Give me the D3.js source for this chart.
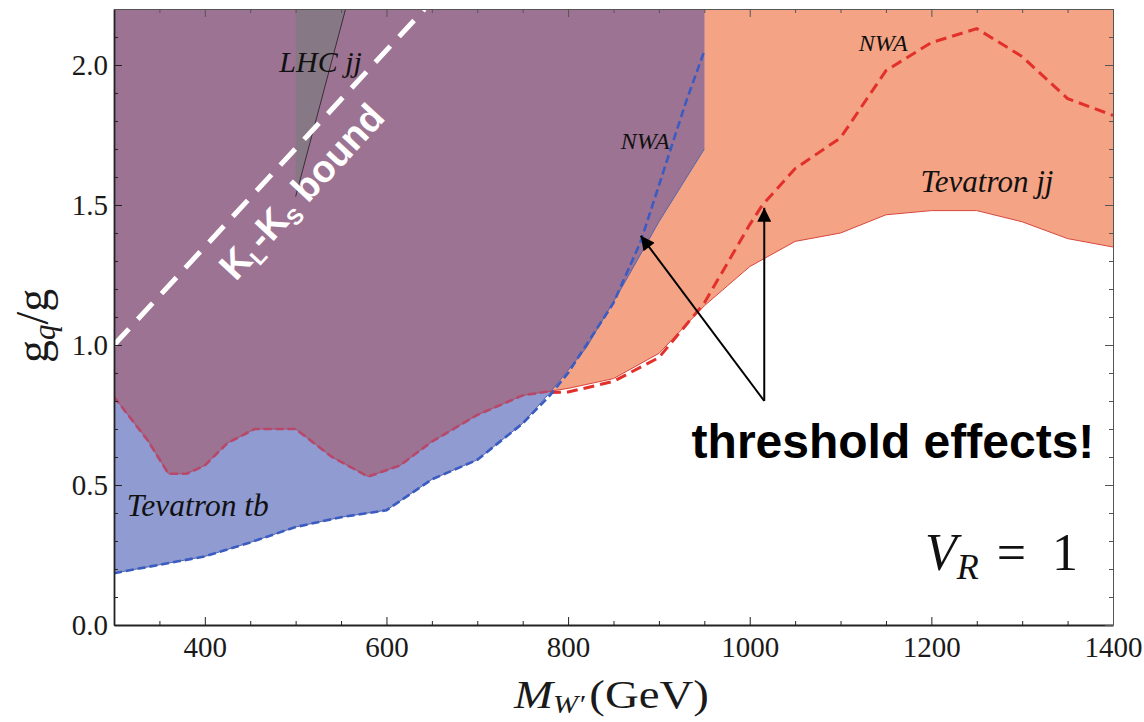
<!DOCTYPE html>
<html><head><meta charset="utf-8">
<script src="https://cdn.jsdelivr.net/npm/d3@7"></script>
<style>body{margin:0;background:#fff}</style>
</head><body>
<svg id="chart" width="1144" height="722"></svg>
<script>
// ---------------- data ----------------
const xDomain = [300, 1400];
const yDomain = [0, 2.2];
const xMajorTicks = [400, 600, 800, 1000, 1200, 1400];
const xMinorTicks = [350, 450, 500, 550, 650, 700, 750, 850, 900, 950, 1050, 1100, 1150, 1250, 1300, 1350];
const yMajorTicks = [0, 0.5, 1.0, 1.5, 2.0];
const yMinorTicks = [0.1, 0.2, 0.3, 0.4, 0.6, 0.7, 0.8, 0.9, 1.1, 1.2, 1.3, 1.4, 1.6, 1.7, 1.8, 1.9, 2.1];

// Tevatron jj exclusion boundary (solid)
const jjMass  = [300, 337, 360, 380, 400, 425, 455, 500, 540, 580, 615, 650, 700, 750, 780, 800, 850, 900, 950, 1000, 1050, 1100, 1150, 1200, 1250, 1300, 1350, 1400];
const jjBound = [0.815, 0.66, 0.54, 0.54, 0.57, 0.65, 0.70, 0.70, 0.60, 0.53, 0.57, 0.655, 0.75, 0.82, 0.835, 0.845, 0.88, 0.97, 1.14, 1.28, 1.37, 1.40, 1.465, 1.48, 1.48, 1.44, 1.38, 1.35];
// Tevatron jj NWA (dashed), part that departs from boundary
const jjNwaMass = [780, 800, 850, 900, 950, 1000, 1014, 1050, 1100, 1150, 1200, 1250, 1300, 1350, 1400];
const jjNwa     = [0.83, 0.832, 0.87, 0.955, 1.15, 1.43, 1.50, 1.63, 1.74, 1.98, 2.08, 2.13, 2.03, 1.88, 1.82];

// Tevatron tb exclusion boundary (solid)
const tbMass  = [300, 350, 400, 450, 500, 550, 600, 650, 700, 750, 780, 820, 860, 900, 950];
const tbBound = [0.185, 0.215, 0.245, 0.295, 0.35, 0.385, 0.41, 0.52, 0.59, 0.72, 0.83, 0.99, 1.21, 1.44, 1.70];
// Tevatron tb NWA (dashed)
const tbNwaMass = [300, 350, 400, 450, 500, 550, 600, 650, 700, 750, 780, 800, 850, 880, 900, 930, 950];
const tbNwa     = [0.185, 0.215, 0.245, 0.295, 0.35, 0.385, 0.41, 0.52, 0.59, 0.72, 0.82, 0.90, 1.15, 1.37, 1.57, 1.87, 2.05];

// LHC jj region
const lhcMass = [500, 500, 555];
const lhcG    = [2.2, 1.53, 2.2];

// K_L - K_S bound line
const klMass = [300, 642];
const klG    = [1.0, 2.2];

// annotation anchors (data coords)
const arrowFrom = [1016, 0.80];
const arrowTips = [[880, 1.39], [1016, 1.49]];

// ---------------- chart ----------------
const svg = d3.select('#chart');
const x = d3.scaleLinear().domain(xDomain).range([114, 1113]);
const y = d3.scaleLinear().domain(yDomain).range([625, 9]);
const yTop = yDomain[1];

const pts = (ms, vs) => ms.map((m, i) => [m, vs[i]]);
const jjPts = pts(jjMass, jjBound);
const tbPts = pts(tbMass, tbBound);
const area = d3.area().x(d => x(d[0])).y0(y(yTop)).y1(d => y(d[1]));
const line = d3.line().x(d => x(d[0])).y(d => y(d[1]));

const defs = svg.append('defs');
defs.append('clipPath').attr('id', 'plotClip').append('rect')
  .attr('x', x(xDomain[0])).attr('y', y(yTop))
  .attr('width', x(xDomain[1]) - x(xDomain[0])).attr('height', y(0) - y(yTop));
defs.append('clipPath').attr('id', 'tbClip').append('path').attr('d', area(tbPts));
defs.append('marker').attr('id', 'arr').attr('viewBox', '0 0 10 10')
  .attr('refX', 10).attr('refY', 5).attr('markerWidth', 16).attr('markerHeight', 14)
  .attr('markerUnits', 'userSpaceOnUse').attr('orient', 'auto')
  .append('path').attr('d', 'M0,0 L10,5 L0,10 Z').attr('fill', '#000');

const plot = svg.append('g').attr('clip-path', 'url(#plotClip)');

plot.append('path').attr('d', area(jjPts)).attr('fill', '#f5a385');
plot.append('path').attr('d', area(tbPts)).attr('fill', '#8f9bd1');
plot.append('path').attr('d', area(jjPts)).attr('fill', '#9d7393').attr('clip-path', 'url(#tbClip)');

// LHC jj
const lhcPts = pts(lhcMass, lhcG);
plot.append('path').attr('d', line(lhcPts) + 'Z').attr('fill', '#877886');
plot.append('path').attr('d', line(lhcPts.slice(1))).attr('stroke', '#3a2e3a').attr('stroke-width', 1).attr('fill', 'none');

// tb boundary thin line
plot.append('path').attr('d', line(tbPts)).attr('stroke', '#5a66a8').attr('stroke-width', 1).attr('fill', 'none');
// jj boundary thin line
plot.append('path').attr('d', line(jjPts.filter(d => d[0] >= 780))).attr('stroke', '#d8463c').attr('stroke-width', 1).attr('fill', 'none');
plot.append('path').attr('d', line(jjPts.filter(d => d[0] <= 780))).attr('stroke', '#a8506a').attr('stroke-width', 1).attr('fill', 'none');
// jj NWA dashed: in overlap part muted
plot.append('path').attr('d', line(jjPts.filter(d => d[0] <= 780))).attr('stroke', '#b8486a')
  .attr('stroke-width', 2.6).attr('stroke-dasharray', '8,4').attr('fill', 'none');
plot.append('path').attr('d', line(pts(jjNwaMass, jjNwa))).attr('stroke', '#e2302b')
  .attr('stroke-width', 3).attr('stroke-dasharray', '11,6').attr('fill', 'none');
// tb NWA dashed
plot.append('path').attr('d', line(pts(tbNwaMass, tbNwa))).attr('stroke', '#3a5cc2')
  .attr('stroke-width', 2.6).attr('stroke-dasharray', '8,4').attr('fill', 'none');

// K_L-K_S dashed white
plot.append('path').attr('d', line(pts(klMass, klG))).attr('stroke', '#fff')
  .attr('stroke-width', 5).attr('stroke-dasharray', '22,13').attr('fill', 'none');

// ---------------- axes ----------------
const serif = "'Liberation Serif', 'Times New Roman', serif";
function styleAxis(g, w, col) {
  g.select('.domain').attr('stroke', col).attr('stroke-width', w);
  g.selectAll('.tick line').attr('stroke', col).attr('stroke-width', 1);
  g.selectAll('text').attr('font-family', serif).attr('font-size', 29).attr('fill', '#1a1a1a');
}
const gb = svg.append('g').attr('transform', `translate(0,${y(0)})`)
  .call(d3.axisBottom(x).tickValues(xMajorTicks).tickSizeInner(-8).tickSizeOuter(0).tickPadding(11).tickFormat(d3.format('d')));
styleAxis(gb, 1.8, '#222');
svg.append('g').attr('transform', `translate(0,${y(0)})`)
  .call(d3.axisBottom(x).tickValues(xMinorTicks).tickSizeInner(-4).tickSizeOuter(0).tickFormat(''))
  .call(g => { g.select('.domain').remove(); g.selectAll('line').attr('stroke', '#222'); });
const gl = svg.append('g').attr('transform', `translate(${x(xDomain[0])},0)`)
  .call(d3.axisLeft(y).tickValues(yMajorTicks).tickSizeInner(-8).tickSizeOuter(0).tickPadding(6).tickFormat(d3.format('.1f')));
styleAxis(gl, 1.8, '#222');
svg.append('g').attr('transform', `translate(${x(xDomain[0])},0)`)
  .call(d3.axisLeft(y).tickValues(yMinorTicks).tickSizeInner(-4).tickSizeOuter(0).tickFormat(''))
  .call(g => { g.select('.domain').remove(); g.selectAll('line').attr('stroke', '#222'); });
// top & right
const gt = svg.append('g').attr('transform', `translate(0,${y(yTop)})`)
  .call(d3.axisTop(x).tickValues(xMajorTicks).tickSizeInner(-8).tickSizeOuter(0).tickFormat(''));
styleAxis(gt, 1, '#555');
svg.append('g').attr('transform', `translate(0,${y(yTop)})`)
  .call(d3.axisTop(x).tickValues(xMinorTicks).tickSizeInner(-4).tickSizeOuter(0).tickFormat(''))
  .call(g => { g.select('.domain').remove(); g.selectAll('line').attr('stroke', '#555'); });
const gr = svg.append('g').attr('transform', `translate(${x(xDomain[1])},0)`)
  .call(d3.axisRight(y).tickValues(yMajorTicks).tickSizeInner(-8).tickSizeOuter(0).tickFormat(''));
styleAxis(gr, 1, '#555');
svg.append('g').attr('transform', `translate(${x(xDomain[1])},0)`)
  .call(d3.axisRight(y).tickValues(yMinorTicks).tickSizeInner(-4).tickSizeOuter(0).tickFormat(''))
  .call(g => { g.select('.domain').remove(); g.selectAll('line').attr('stroke', '#555'); });

// axis titles
const xt = svg.append('text').attr('font-family', serif).attr('fill', '#1a1a1a')
  .attr('transform', `translate(514,708) scale(1.2,1)`);
xt.append('tspan').attr('font-style', 'italic').attr('font-size', 39).text('M');
xt.append('tspan').attr('font-style', 'italic').attr('font-size', 25).attr('dy', 5).text('W′');
xt.append('tspan').attr('font-size', 39).attr('dy', -5).attr('dx', 4).text('(GeV)');

const yt = svg.append('text').attr('font-family', serif).attr('fill', '#1a1a1a')
  .attr('transform', 'translate(48,363) rotate(-90)');
yt.append('tspan').attr('font-size', 46).text('g');
yt.append('tspan').attr('font-style', 'italic').attr('font-size', 31).attr('dy', 7).text('q');
yt.append('tspan').attr('font-size', 46).attr('dy', -7).text('/g');

// ---------------- labels ----------------
function itLabel(txt, xd, yd, size) {
  return svg.append('text').attr('x', x(xd)).attr('y', y(yd)).attr('font-family', serif)
    .attr('font-style', 'italic').attr('font-size', size).attr('fill', '#111').text(txt);
}
itLabel('LHC jj', 482, 1.975, 30);
itLabel('NWA', 858, 1.70, 24);
itLabel('NWA', 1120, 2.05, 24);
itLabel('Tevatron jj', 1188, 1.547, 31);
itLabel('Tevatron tb', 314, 0.39, 31.5);

// K_L-K_S bound text
const ang = Math.atan2(y(klG[1]) - y(klG[0]), x(klMass[1]) - x(klMass[0])) * 180 / Math.PI;
const kt = svg.append('text').attr('font-family', "'Liberation Sans', Arial, sans-serif").attr('font-weight', 'bold')
  .attr('fill', '#fff').attr('font-size', 38)
  .attr('transform', `translate(${x(434)},${y(1.225)}) rotate(${ang})`);
kt.append('tspan').text('K');
kt.append('tspan').attr('font-size', 22).attr('dy', 7).text('L');
kt.append('tspan').attr('dy', -7).text('-K');
kt.append('tspan').attr('font-size', 22).attr('dy', 7).text('S');
kt.append('tspan').attr('dy', -7).text(' bound');

// arrows
arrowTips.forEach(t => {
  svg.append('line').attr('x1', x(arrowFrom[0])).attr('y1', y(arrowFrom[1]))
    .attr('x2', x(t[0])).attr('y2', y(t[1])).attr('stroke', '#000').attr('stroke-width', 2)
    .attr('marker-end', 'url(#arr)');
});
svg.append('text').attr('x', x(936)).attr('y', y(0.596))
  .attr('font-family', "'Liberation Sans', Arial, sans-serif").attr('font-weight', 'bold')
  .attr('font-size', 48).attr('fill', '#000').text('threshold effects!');

// V_R = 1
const vt = svg.append('text').attr('font-family', serif).attr('fill', '#111')
  .attr('x', x(1193)).attr('y', y(0.196));
vt.append('tspan').attr('font-style', 'italic').attr('font-size', 52).text('V');
vt.append('tspan').attr('font-style', 'italic').attr('font-size', 36).attr('dy', 9).attr('dx', 0).text('R');
vt.append('tspan').attr('font-size', 52).attr('dy', -9).attr('dx', 18).text('=');
vt.append('tspan').attr('font-size', 52).attr('dx', 26).text('1');
</script>
</body></html>
